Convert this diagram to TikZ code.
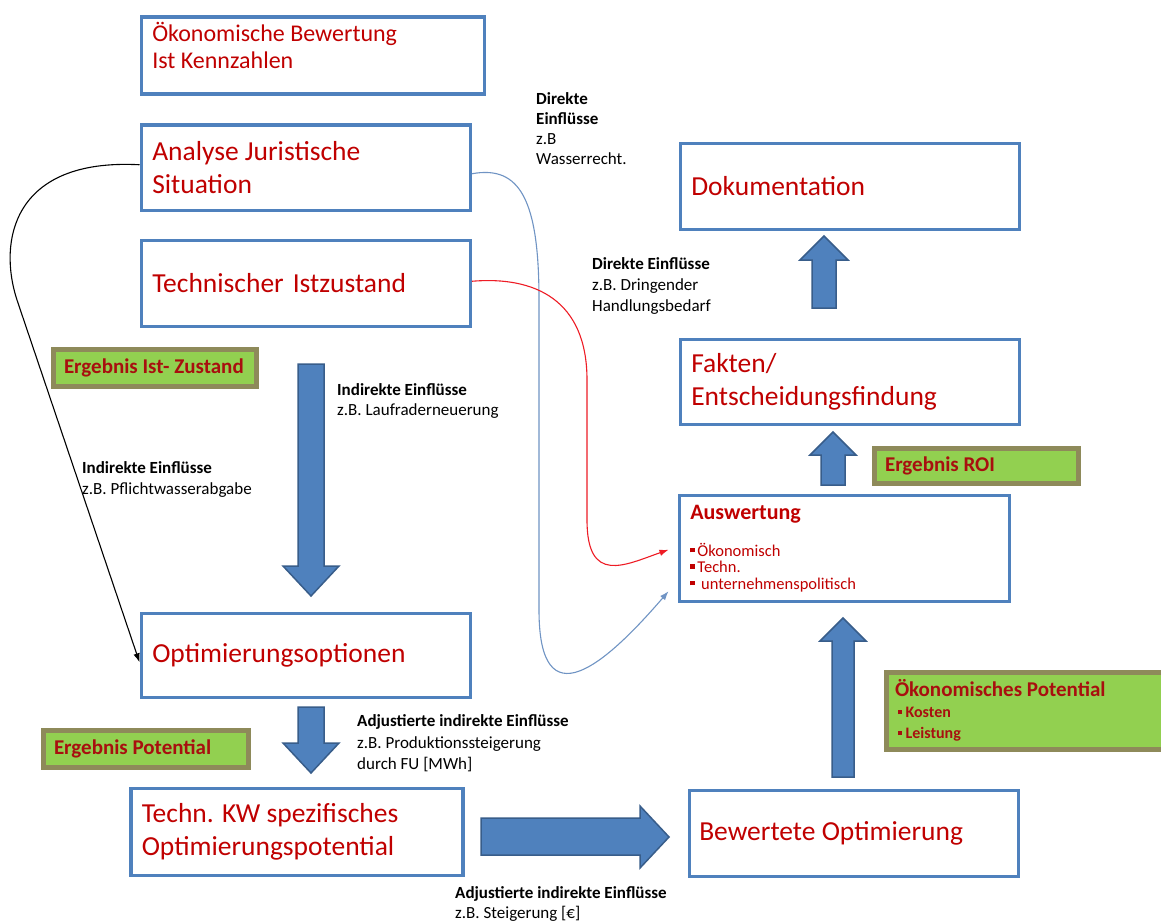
\documentclass[tikz,border=0pt]{standalone}
\usepackage{fontspec}
\setmainfont{Carlito}
\usetikzlibrary{arrows.meta}

\definecolor{boxblue}{HTML}{4F81BD}
\definecolor{arrowedge}{HTML}{385D8A}
\definecolor{titlered}{HTML}{C00000}
\definecolor{resgreen}{HTML}{92D050}
\definecolor{resedge}{HTML}{8E8A5A}
\definecolor{resred}{HTML}{A80F0F}
\definecolor{linkblue}{HTML}{7094C4}
\definecolor{linkred}{HTML}{EE1C25}

\newcommand{\sqbullet}{\raisebox{0.22em}{\rule{0.27em}{0.27em}}}

\begin{document}
\begin{tikzpicture}[x=1pt, y=-1pt,
        stepbox/.style={draw=boxblue, line width=3.5pt, fill=white, anchor=north west,
            inner xsep=11pt, inner ysep=0pt, text=titlered,
            font=\fontsize{27.5}{33}\selectfont,
            execute at begin node={\spaceskip=0pt\xspaceskip=0pt}},
        result/.style={draw=resedge, line width=5pt, fill=resgreen, anchor=north west,
            inner xsep=11pt, inner ysep=0pt, text=resred,
            font=\fontsize{21}{22}\selectfont\bfseries,
            execute at begin node={\spaceskip=0pt\xspaceskip=0pt}},
        note/.style={anchor=north west, align=left, inner sep=0pt,
            font=\fontsize{17}{20.5}\selectfont},
        block/.style={fill=boxblue, draw=arrowedge, line width=1.5pt, line join=miter},
        link/.style={line width=1.1pt, -{Latex[length=9pt, width=6.5pt]}}
    ]

    \fill[white] (0,0) rectangle (1161,923);
    \useasboundingbox (0,0) rectangle (1161,923);

    \node[stepbox, font=\fontsize{24}{27}\selectfont, text width=321pt, minimum height=77pt] (oekobew) at (139.5,15.5)
        {Ökonomische Bewertung\\Ist Kennzahlen\rule[-21pt]{0pt}{21pt}};
    \node[stepbox, text width=307pt, minimum height=85pt] (anajur) at (139.5,123.5)
        {Analyse Juristische\\Situation};
    \node[stepbox, text width=307pt, minimum height=86pt] (techist) at (139.5,238.5)
        {Technischer\hspace{9pt}Istzustand};
    \node[stepbox, text width=307pt, minimum height=84pt] (optopt) at (139.5,611.5)
        {Optimierungsoptionen};
    \node[stepbox, text width=310pt, minimum height=87pt] (technkw) at (129,786.5)
        {Techn. KW spezifisches\\Optimierungspotential};
    \node[stepbox, text width=309pt, inner xsep=10pt, minimum height=86pt] (bewopt) at (687.5,788.5)
        {Bewertete Optimierung};
    \node[stepbox, text width=308pt, minimum height=106pt] (ausw) at (677.5,493.5)
        {\fontsize{22}{26}\selectfont\bfseries Auswertung\par\vspace{19pt}
         \fontsize{16.5}{16.5}\selectfont\mdseries\sqbullet\,Ökonomisch\par
         \sqbullet\,Techn.\par
         \sqbullet\ \,unternehmenspolitisch\par};
    \node[stepbox, text width=317pt, minimum height=85pt] (fakten) at (678.5,337.5)
        {Fakten/\\Entscheidungsfindung};
    \node[stepbox, text width=317pt, minimum height=86pt] (doku) at (678.5,141.5)
        {Dokumentation};

    \node[result, text width=181pt, minimum height=37pt] (resist) at (50.5,346.5)
        {\mbox{Ergebnis Ist- Zustand}};
    \node[result, text width=182pt, minimum height=35pt] (resroi) at (871.5,445.5)
        {\mbox{Ergebnis ROI}};
    \node[result, text width=183pt, minimum height=37pt] (respot) at (40.5,727.5)
        {\mbox{Ergebnis Potential}};
    \node[result, text width=280pt, inner xsep=9pt, minimum height=77pt] (resoek) at (883.5,669.5)
        {Ökonomisches Potential\par
         \fontsize{16}{21}\selectfont\,\sqbullet\ Kosten\par
         \,\sqbullet\ Leistung\par};

    \draw[link, black] ([yshift=3pt]anajur.west) .. controls (12,158) and (-2,242) .. (17,300)
        -- ([yshift=-7pt]optopt.west);
    \draw[link, linkblue] ([yshift=-6pt]anajur.east) .. controls (520,165) and (539,200) .. (539,300)
        -- (539,610) .. controls (539,722) and (605,665) .. ([xshift=-9pt, yshift=-43pt]ausw.west);
    \draw[link, linkred] ([yshift=2pt]techist.east) .. controls (535,276) and (587,300) .. (587,380)
        -- (587,520) .. controls (587,585) and (625,565) .. ([xshift=-9pt, yshift=-1.5pt]ausw.west);

    \foreach \cx/\sw/\hw/\ya/\yb/\yc in {311/13/28/364/566/596, 311/13/28/707/743/773,
            824/12/24/308/260/236, 833/12/23/485/455/432, 843/11/23/777/641/618} {
        \filldraw[block] (\cx-\sw,\ya) -- (\cx-\sw,\yb) -- (\cx-\hw,\yb) -- (\cx,\yc)
            -- (\cx+\hw,\yb) -- (\cx+\sw,\yb) -- (\cx+\sw,\ya) -- cycle;
    }
    \filldraw[block] (481,818) -- (640,818) -- (640,806) -- (669,837) -- (640,868)
        -- (640,855) -- (481,855) -- cycle;

    \node[note] (lab1) at (536,92)
        {\textbf{Direkte}\\[-0.5pt]\textbf{Einflüsse}\\[-0.5pt]z.B\\[-0.5pt]Wasserrecht.};
    \node[note] (lab2) at (592,257)
        {\textbf{Direkte Einflüsse}\\[0.5pt]z.B. Dringender\\[0.5pt]Handlungsbedarf};
    \node[note] (lab3) at (337,383)
        {\textbf{Indirekte Einflüsse}\\z.B. Laufraderneuerung};
    \node[note] (lab4) at (82,461)
        {\textbf{Indirekte Einflüsse}\\[0.5pt]z.B. Pflichtwasserabgabe};
    \node[note] (lab5) at (357,714)
        {\textbf{Adjustierte indirekte Einflüsse}\\[1.5pt]z.B. Produktionssteigerung\\[1pt]durch FU [MWh]};
    \node[note] (lab6) at (455,886)
        {\textbf{Adjustierte indirekte Einflüsse}\\z.B. Steigerung [€]};
\end{tikzpicture}
\end{document}
